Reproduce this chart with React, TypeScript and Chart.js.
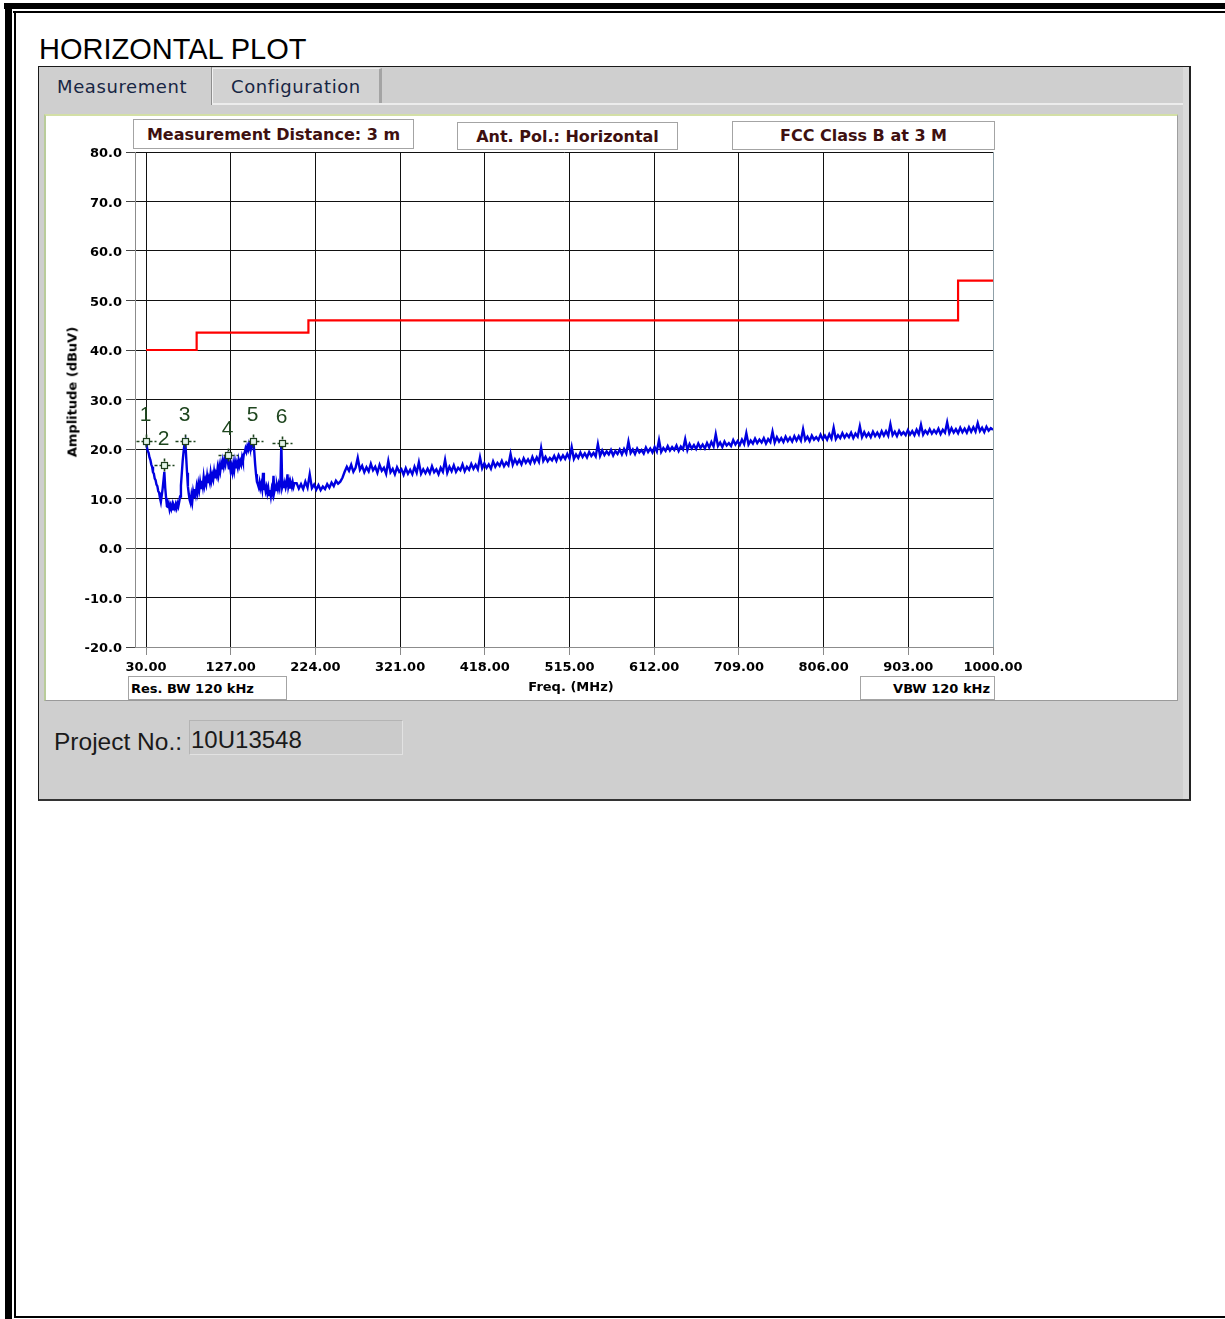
import React, { useEffect, useRef } from 'react';
import { Chart, registerables } from 'chart.js';

Chart.register(...registerables);

// ---- data ----
const xTicks = [30, 127, 224, 321, 418, 515, 612, 709, 806, 903, 1000];
const yTicks = [-20, -10, 0, 10, 20, 30, 40, 50, 60, 70, 80];

// sweep segment A: 30..200 MHz, 1 MHz step
const sweepAStart = 30;
const sweepAStep = 1;
const sweepAAmp = [
  21.5, 20.4, 19.6, 19.2, 18.3, 17.8, 16.9, 16.4, 15.3, 15.0,
  14.0, 13.7, 12.8, 12.5, 11.5, 11.2, 10.1, 9.3, 10.6, 11.9,
  13.6, 15.4, 12.2, 10.1, 8.4, 8.3, 8.9, 7.8, 8.6, 7.9,
  8.7, 7.8, 8.5, 8.0, 8.8, 8.1, 9.0, 8.4, 9.3, 10.4,
  12.6, 15.1, 17.6, 19.4, 20.9, 21.5, 18.4, 15.2, 12.4, 10.9,
  9.7, 9.1, 10.6, 9.4, 11.3, 10.3, 11.9, 10.9, 12.4, 11.3,
  12.9, 11.8, 13.3, 12.1, 13.6, 12.5, 14.3, 12.7, 13.7, 12.9,
  14.5, 13.1, 14.1, 13.3, 15.1, 13.7, 14.7, 13.9, 15.4, 14.1,
  15.1, 14.5, 16.1, 14.9, 16.5, 15.5, 16.9, 15.9, 17.5, 16.5,
  17.7, 16.9, 18.1, 18.6, 17.1, 15.9, 16.9, 15.5, 16.5, 15.4,
  16.9, 15.7, 17.3, 16.1, 17.1, 16.3, 17.7, 16.7, 17.5, 16.9,
  18.3, 17.5, 18.9, 19.3, 20.1, 19.5, 20.5, 19.9, 20.9, 20.2,
  21.1, 20.4, 21.3, 21.6, 19.4, 16.9, 14.9, 13.4, 12.9, 12.3,
  13.3, 12.1, 12.9, 11.9, 15.2, 11.7, 12.6, 11.5, 12.3, 11.1,
  12.1, 10.7, 11.7, 10.5, 11.9, 11.1, 14.6, 11.4, 12.3, 11.7,
  12.7, 11.9, 12.9, 12.1, 13.5, 21.3, 12.3, 13.0, 12.1, 13.1,
  12.2, 12.9, 14.9, 12.4, 13.2, 12.2, 13.0, 12.3, 13.3, 12.4,
  13.1,
];

// sweep segment B: 202.5..1000 MHz, 2.5 MHz step
const sweepBStart = 202.5;
const sweepBStep = 2.5;
const sweepBAmp = [
  13.1, 12.0, 12.9, 11.9, 13.4, 12.2, 14.9, 12.1, 12.8, 11.8,
  12.7, 11.7, 12.4, 11.9, 12.9, 12.2, 13.2, 12.5, 13.6, 13.0,
  13.4, 14.2, 15.4, 16.4, 15.6, 16.8, 15.4, 16.2, 18.2, 15.8,
  16.6, 15.3, 16.3, 15.5, 17.0, 15.7, 16.4, 15.2, 16.8, 15.6,
  16.2, 15.0, 17.6, 15.3, 16.0, 14.9, 16.3, 15.4, 15.9, 14.8,
  16.1, 15.0, 15.8, 14.9, 16.4, 15.2, 17.3, 15.0, 15.9, 15.1,
  16.0, 15.1, 16.5, 15.3, 15.9, 14.9, 16.2, 15.4, 17.8, 15.2,
  16.4, 15.5, 16.7, 15.4, 16.2, 15.7, 16.9, 15.5, 16.4, 15.8,
  17.0, 16.0, 16.8, 15.9, 18.3, 16.1, 17.1, 16.2, 16.9, 16.0,
  17.5, 16.4, 17.2, 16.6, 17.6, 16.5, 17.3, 16.7, 19.0, 16.8,
  17.9, 17.0, 17.8, 16.9, 18.1, 17.2, 17.9, 17.1, 18.4, 17.3,
  18.3, 17.4, 20.2, 17.6, 18.4, 17.5, 18.2, 17.7, 18.6, 17.6,
  18.8, 17.9, 18.7, 18.0, 19.0, 18.1, 20.4, 18.0, 18.9, 18.2,
  19.3, 18.4, 19.1, 18.3, 19.4, 18.6, 19.2, 18.5, 21.0, 18.6,
  19.7, 18.8, 19.5, 18.9, 19.8, 18.7, 19.6, 19.0, 19.9, 18.9,
  20.0, 19.1, 21.5, 19.2, 19.9, 19.0, 20.1, 19.3, 19.8, 19.1,
  20.3, 19.4, 20.1, 19.3, 20.4, 19.5, 21.8, 19.4, 20.2, 19.6,
  20.6, 19.7, 20.4, 19.8, 20.7, 19.6, 20.5, 19.9, 22.0, 19.8,
  21.0, 20.1, 20.8, 20.0, 21.1, 20.2, 20.9, 20.1, 21.2, 20.3,
  21.4, 20.5, 23.0, 20.6, 21.3, 20.4, 21.5, 20.7, 21.2, 20.6,
  21.8, 20.9, 21.6, 20.8, 21.9, 21.0, 23.2, 20.9, 21.7, 21.1,
  22.1, 21.2, 21.9, 21.3, 22.2, 21.1, 22.0, 21.4, 23.5, 21.3,
  22.4, 21.5, 22.2, 21.4, 22.5, 21.6, 22.3, 21.5, 22.6, 21.7,
  22.6, 21.7, 24.0, 21.8, 22.5, 21.6, 22.7, 21.9, 22.4, 21.8,
  22.9, 22.0, 22.7, 21.9, 23.0, 22.1, 24.3, 22.0, 22.8, 22.2,
  23.2, 22.3, 23.0, 22.4, 23.3, 22.2, 23.1, 22.5, 24.6, 22.4,
  23.4, 22.5, 23.2, 22.4, 23.5, 22.6, 23.3, 22.5, 23.6, 22.7,
  23.6, 22.7, 25.0, 22.8, 23.5, 22.6, 23.7, 22.9, 23.4, 22.8,
  23.8, 22.9, 23.6, 22.8, 23.9, 23.0, 24.9, 22.9, 23.7, 23.1,
  24.0, 23.1, 23.8, 23.2, 24.1, 23.0, 23.9, 23.3, 25.4, 23.2,
  24.2, 23.3, 24.0, 23.2, 24.3, 23.4, 24.1, 23.3, 24.4, 23.5,
  24.4, 23.5, 25.2, 23.6, 24.3, 23.4, 24.5, 23.7, 24.2, 23.9,
];

// FCC Class B limit (3 m)
const limitFreq = [30, 88, 88, 216, 216, 960, 960, 1000];
const limitAmp = [40, 40, 43.5, 43.5, 46, 46, 54, 54];

// markers
const markerLabels = ['1', '2', '3', '4', '5', '6'];
const markerFreq = [30.0, 50.6, 74.8, 123.9, 152.6, 185.6];
const markerAmp = [21.6, 16.7, 21.6, 18.7, 21.6, 21.3];

const tickFont = { family: '"DejaVu Sans", sans-serif', weight: 'bold' as const, size: 13 };

const markerPlugin = {
  id: 'markers',
  afterDatasetsDraw(chart: any) {
    const { ctx, scales } = chart;
    const xs = scales.x;
    const ys = scales.y;
    ctx.save();
    markerFreq.forEach((f, i) => {
      const px = Math.round(xs.getPixelForValue(f)) + 0.5;
      const py = Math.round(ys.getPixelForValue(markerAmp[i])) + 0.5;
      ctx.strokeStyle = '#1f441f';
      ctx.lineWidth = 1.6;
      ctx.setLineDash([3, 2]);
      ctx.beginPath();
      ctx.moveTo(px - 10, py); ctx.lineTo(px - 3, py);
      ctx.moveTo(px + 3, py); ctx.lineTo(px + 10, py);
      ctx.moveTo(px, py - 7); ctx.lineTo(px, py - 3);
      ctx.moveTo(px, py + 3); ctx.lineTo(px, py + 7);
      ctx.stroke();
      ctx.setLineDash([]);
      ctx.lineWidth = 1.2;
      ctx.fillStyle = '#e4f4ea';
      ctx.fillRect(px - 3, py - 3, 6, 6);
      ctx.strokeStyle = '#1d3d1d';
      ctx.strokeRect(px - 3, py - 3, 6, 6);
      ctx.fillStyle = '#1f461f';
      ctx.font = '21px "Liberation Sans", Arial, sans-serif';
      ctx.textAlign = 'center';
      ctx.textBaseline = 'middle';
      ctx.fillText(markerLabels[i], px - 1, py - 26);
    });
    ctx.restore();
  },
};

const abs = (l: number, t: number, w: number, h: number, extra: React.CSSProperties = {}): React.CSSProperties => ({
  position: 'absolute', left: l, top: t, width: w, height: h, boxSizing: 'border-box', ...extra,
});

const labelBox = (l: number, t: number, w: number, h: number, justify: string, extra: React.CSSProperties = {}): React.CSSProperties =>
  abs(l, t, w, h, {
    background: '#ffffff', border: '1px solid #a4a4a4', display: 'flex', alignItems: 'center', justifyContent: justify,
    whiteSpace: 'nowrap', ...extra,
  });

export default function App() {
  const canvasRef = useRef<HTMLCanvasElement | null>(null);

  useEffect(() => {
    const canvas = canvasRef.current;
    if (!canvas) return;
    const trace: { x: number; y: number }[] = [];
    sweepAAmp.forEach((a, i) => trace.push({ x: sweepAStart + i * sweepAStep, y: a }));
    sweepBAmp.forEach((a, i) => trace.push({ x: sweepBStart + i * sweepBStep, y: a }));
    const limit = limitFreq.map((f, i) => ({ x: f, y: limitAmp[i] }));

    const chart = new Chart(canvas, {
      type: 'line',
      data: {
        datasets: [
          { label: 'FCC Class B', data: limit, borderColor: '#ff0000', borderWidth: 2.2, pointRadius: 0, tension: 0 },
          { label: 'Horizontal', data: trace, borderColor: '#0000e0', borderWidth: 2.4, pointRadius: 0, tension: 0, borderJoinStyle: 'miter' },
        ],
      },
      options: {
        animation: false,
        responsive: false,
        devicePixelRatio: 1,
        layout: { padding: { top: 37, right: 184, left: 0, bottom: 0 } },
        plugins: { legend: { display: false }, tooltip: { enabled: false } },
        scales: {
          x: {
            type: 'linear',
            min: 17.4,
            max: 1000,
            afterBuildTicks: (s: any) => { s.ticks = xTicks.map((v) => ({ value: v })); },
            afterFit: (s: any) => { s.height = 53; },
            grid: {
              color: (c: any) => (c.tick && c.tick.value === 1000 ? '#8fa0a8' : '#111111'),
              lineWidth: 1,
              tickLength: 8,
              tickColor: '#8a8a8a',
            },
            border: { display: true, color: '#8c8c8c', width: 1 },
            ticks: {
              font: tickFont, color: '#000', padding: 5, maxRotation: 0, autoSkip: false,
              callback: (v: any) => Number(v).toFixed(2),
            },
          },
          y: {
            type: 'linear',
            min: -20,
            max: 80,
            afterBuildTicks: (s: any) => { s.ticks = yTicks.map((v) => ({ value: v })); },
            afterFit: (s: any) => { s.width = 90; },
            grid: { color: '#111111', lineWidth: 1, tickLength: 9, tickColor: '#444444' },
            border: { display: true, color: '#8c8c8c', width: 1 },
            ticks: {
              font: tickFont, color: '#000', padding: 4, autoSkip: false, labelOffset: 2,
              callback: (v: any) => Number(v).toFixed(1),
            },
          },
        },
      },
      plugins: [markerPlugin],
    });
    return () => chart.destroy();
  }, []);

  const tabFont: React.CSSProperties = {
    fontFamily: '"DejaVu Sans", sans-serif', fontSize: 18, lineHeight: '18px', letterSpacing: 0.6, color: '#172644', whiteSpace: 'nowrap',
  };
  const boxText: React.CSSProperties = {
    fontFamily: '"DejaVu Sans", sans-serif', fontWeight: 'bold', fontSize: 16, color: '#3e1010',
  };
  const smallBold: React.CSSProperties = {
    fontFamily: '"DejaVu Sans", sans-serif', fontWeight: 'bold', fontSize: 13, color: '#000',
  };

  return (
    <div style={{ position: 'absolute', left: 0, top: 0, width: 1225, height: 1319, background: '#fff', overflow: 'hidden' }}>
      {/* outer frame */}
      <div style={abs(4, 3, 1221, 6, { background: '#000' })} />
      <div style={abs(13, 11, 1212, 2, { background: '#000' })} />
      <div style={abs(5, 3, 7, 1316, { background: '#000' })} />
      <div style={abs(14, 11, 2, 1307, { background: '#000' })} />
      <div style={abs(14, 1316, 1211, 2, { background: '#000' })} />

      {/* title */}
      <div style={{ position: 'absolute', left: 39, top: 35, fontFamily: '"Liberation Sans", Arial, sans-serif', fontSize: 29, lineHeight: '29px', color: '#000', whiteSpace: 'nowrap' }}>
        HORIZONTAL PLOT
      </div>

      {/* panel */}
      <div style={abs(38, 66, 1153, 735, {
        background: '#cfcfcf', borderTop: '1px solid #1a1a1a', borderLeft: '1px solid #1a1a1a',
        borderRight: '2px solid #222', borderBottom: '2px solid #333',
      })} />
      <div style={abs(1183, 67, 6, 732, { background: '#dadada' })} />
      {/* tabs */}
      <div style={abs(211, 67, 1, 38, { background: '#8e8e8e' })} />
      <div style={abs(212, 68, 170, 36, {
        background: '#d2d2d2', borderLeft: '1px solid #f2f2f2', borderTop: '1px solid #ececec', borderRight: '3px solid #a4a4a4',
      })} />
      <div style={abs(212, 103, 971, 2, { background: '#ececec' })} />
      <div style={{ position: 'absolute', left: 57, top: 78, ...tabFont }}>Measurement</div>
      <div style={{ position: 'absolute', left: 231, top: 78, ...tabFont }}>Configuration</div>

      {/* inner white plot region */}
      <div style={abs(44, 114, 1134, 587, {
        background: '#ffffff', borderTop: '2px solid #d3dfa6', borderLeft: '2px solid #b9cc9a',
        borderRight: '1px solid #9e9e9e', borderBottom: '1px solid #9a9a9a',
      })} />
      <canvas ref={canvasRef} width={1132} height={585} style={{ position: 'absolute', left: 45, top: 115, width: 1132, height: 585 }} />

      {/* header label boxes */}
      <div style={labelBox(133, 119, 281, 30, 'center')}><span style={boxText}>Measurement Distance: 3 m</span></div>
      <div style={labelBox(457, 122, 221, 28, 'center')}><span style={boxText}>Ant. Pol.: Horizontal</span></div>
      <div style={labelBox(732, 121, 263, 29, 'center')}><span style={boxText}>FCC Class B at 3 M</span></div>

      {/* axis titles */}
      <div style={{ position: 'absolute', left: 72, top: 392, transform: 'translate(-50%, -50%) rotate(-90deg)', whiteSpace: 'nowrap', ...smallBold }}>
        Amplitude (dBuV)
      </div>
      <div style={{ position: 'absolute', left: 571, top: 686, transform: 'translate(-50%, -50%)', whiteSpace: 'nowrap', ...smallBold }}>
        Freq. (MHz)
      </div>

      {/* footer label boxes */}
      <div style={labelBox(128, 676, 159, 24, 'flex-start', { paddingLeft: 2 })}><span style={smallBold}>Res. BW 120 kHz</span></div>
      <div style={labelBox(860, 676, 135, 24, 'flex-end', { paddingRight: 4 })}><span style={smallBold}>VBW 120 kHz</span></div>

      {/* project number */}
      <div style={{ position: 'absolute', left: 54, top: 730, fontFamily: '"Liberation Sans", Arial, sans-serif', fontSize: 24.5, lineHeight: '24px', color: '#1a1a1a', whiteSpace: 'nowrap' }}>
        Project No.:
      </div>
      <div style={abs(189, 720, 214, 35, { background: '#cbcbcb', border: '1px solid #b4b4b4', borderBottomColor: '#e2e2e2', borderRightColor: '#e2e2e2' })} />
      <div style={{ position: 'absolute', left: 191, top: 728, fontFamily: '"Liberation Sans", Arial, sans-serif', fontSize: 24, lineHeight: '24px', color: '#1a1a1a', whiteSpace: 'nowrap' }}>
        10U13548
      </div>
    </div>
  );
}
